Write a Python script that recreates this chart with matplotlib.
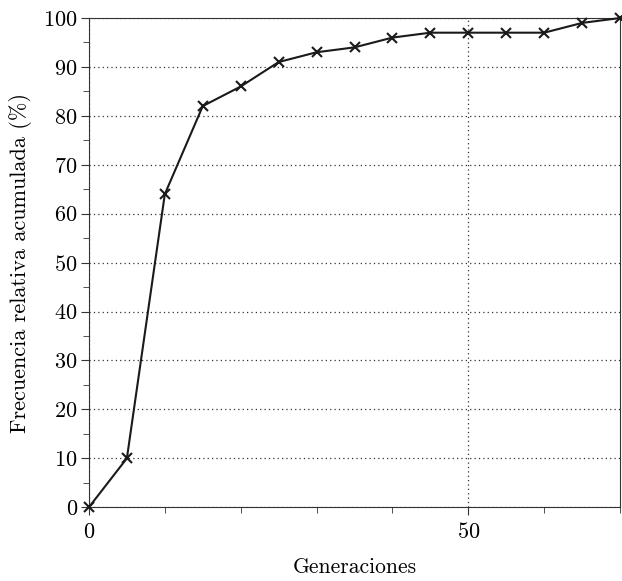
import matplotlib
matplotlib.use('Agg')
import matplotlib.pyplot as plt
from matplotlib.ticker import MultipleLocator

plt.rcParams['font.family'] = 'serif'
plt.rcParams['font.serif'] = ['cmr10', 'DejaVu Serif']
plt.rcParams['mathtext.fontset'] = 'cm'
plt.rcParams['axes.formatter.use_mathtext'] = True

# datos
generaciones = [0, 5, 10, 15, 20, 25, 30, 35, 40, 45, 50, 55, 60, 65, 70]
frecuencia = [0, 10, 64, 82, 86, 91, 93, 94, 96, 97, 97, 97, 97, 99, 100]

fig = plt.figure(figsize=(6.22, 5.81), dpi=100)
ax = fig.add_axes([0.143, 0.127, 0.854, 0.842])

ax.plot(generaciones, frecuencia, color='#1a1a1a', lw=1.5, marker='x',
        ms=7, mew=1.5, clip_on=False, zorder=3)

ax.set_xlim(0, 70)
ax.set_ylim(0, 100)
ax.xaxis.set_major_locator(MultipleLocator(50))
ax.xaxis.set_minor_locator(MultipleLocator(10))
ax.yaxis.set_major_locator(MultipleLocator(10))
ax.yaxis.set_minor_locator(MultipleLocator(5))

ax.grid(True, which='major', color='#333333', linestyle=(0, (1, 2.5)), lw=0.9)
ax.tick_params(which='both', direction='out', color='#333333', labelsize=16)
ax.tick_params(which='major', length=6)
ax.tick_params(which='minor', length=4)
ax.tick_params(axis='y', pad=2)
ax.tick_params(axis='x', pad=5)
for s in ax.spines.values():
    s.set_color('#333333')

ax.set_xlabel('Generaciones', fontsize=15.5, labelpad=11)
ax.set_ylabel('Frecuencia relativa acumulada (%)', fontsize=16, labelpad=8)

fig.savefig('out.png', dpi=100)
